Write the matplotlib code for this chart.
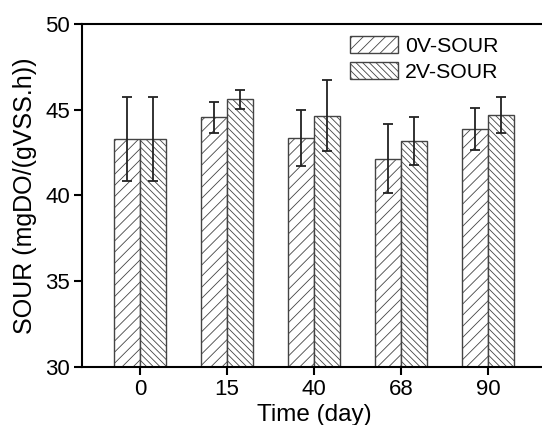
import matplotlib
matplotlib.use("Agg")
import matplotlib.pyplot as plt
import numpy as np

# data
days = ["0", "15", "40", "68", "90"]
sour_0v = [43.3, 44.55, 43.35, 42.15, 43.9]
err_0v = [2.45, 0.9, 1.65, 2.03, 1.23]
sour_2v = [43.3, 45.6, 44.65, 43.2, 44.7]
err_2v = [2.45, 0.57, 2.07, 1.4, 1.07]

plt.rcParams["font.family"] = ["Liberation Sans", "DejaVu Sans"]
plt.rcParams["hatch.linewidth"] = 0.6
plt.rcParams["hatch.color"] = "#555555"

fig = plt.figure(figsize=(5.42, 4.25), dpi=100)
ax = fig.add_axes([0.1513, 0.1365, 0.856, 0.807])

x = np.arange(len(days))
w = 0.3

ax.bar(x - w / 2, sour_0v, w, color="white", edgecolor="#444444",
       linewidth=1.0, hatch="///", label="0V-SOUR")
ax.bar(x + w / 2, sour_2v, w, color="white", edgecolor="#444444",
       linewidth=1.0, hatch="\\" * 5, label="2V-SOUR")
ax.errorbar(x - w / 2, sour_0v, yerr=err_0v, fmt="none", ecolor="#222222",
            elinewidth=1.3, capsize=3.5, capthick=1.3)
ax.errorbar(x + w / 2, sour_2v, yerr=err_2v, fmt="none", ecolor="#222222",
            elinewidth=1.3, capsize=3.5, capthick=1.3)

ax.set_xlim(-0.667, 4.667)
ax.set_ylim(30, 50)
ax.set_xticks(x)
ax.set_xticklabels(days)
ax.set_yticks([30, 35, 40, 45, 50])

for s in ax.spines.values():
    s.set_linewidth(1.5)
ax.tick_params(axis="both", direction="out", length=5.5, width=1.5,
               labelsize=16, pad=3)

ax.set_xlabel("Time (day)", fontsize=17.5, labelpad=3)
ax.set_ylabel("SOUR (mgDO/(gVSS.h))", fontsize=18, labelpad=6)

ax.legend(loc="upper left", bbox_to_anchor=(0.6458, 0.915),
          bbox_transform=fig.transFigure, frameon=False, fontsize=15.3,
          borderpad=0, borderaxespad=0, handlelength=2.25, handleheight=0.85,
          handletextpad=0.35, labelspacing=0.3)

fig.savefig("out.png", dpi=100)
